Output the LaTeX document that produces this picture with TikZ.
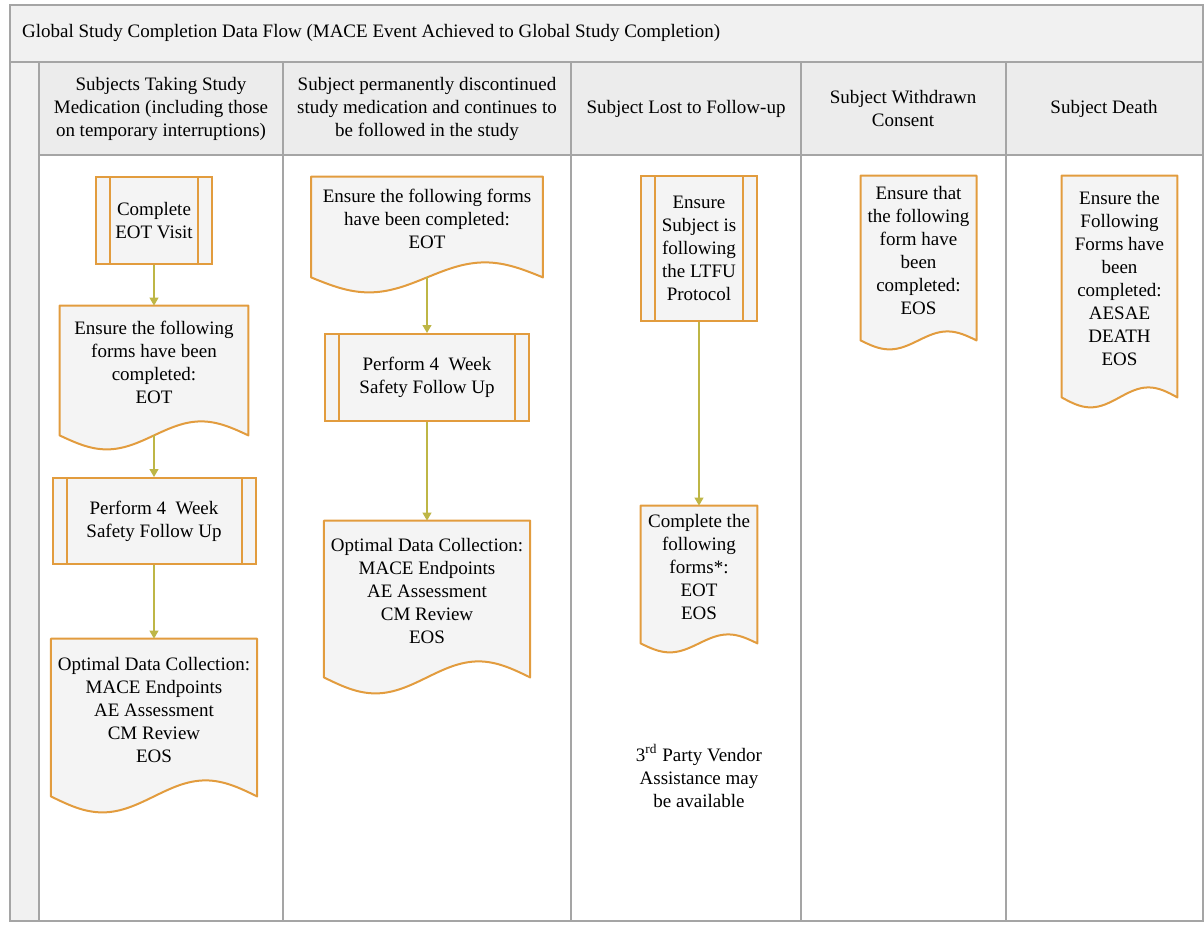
\documentclass[tikz,border=0pt]{standalone}
\usepackage{fontspec}
\setmainfont{Liberation Serif}
\usetikzlibrary{arrows.meta,calc}

\definecolor{boxline}{RGB}{226,156,62}
\definecolor{boxfill}{RGB}{244,244,244}
\definecolor{flowline}{RGB}{190,182,70}
\definecolor{gridline}{RGB}{165,165,165}
\definecolor{headfill}{RGB}{236,236,236}
\definecolor{titlefill}{RGB}{241,241,241}

\pgfdeclarelayer{background}
\pgfsetlayers{background,main}

% document shape with a wavy bottom, drawn round a named node
\newcommand{\docwave}[2]{%
  \filldraw[draw=boxline,fill=boxfill,line width=1pt,line join=round]
    (#1.south west) -- (#1.north west) -- (#1.north east) -- (#1.south east)
    sin ($(#1.south west)!0.75!(#1.south east)+(0,-#2)$)
    cos ($(#1.south west)!0.5!(#1.south east)$)
    sin ($(#1.south west)!0.25!(#1.south east)+(0,#2)$)
    cos (#1.south west) -- cycle;}

\tikzset{
  every node/.style={font=\fontsize{9.5pt}{11.5pt}\selectfont},
  procbox/.style={draw=boxline,fill=boxfill,line width=1pt,align=center,
    path picture={\draw[boxline,line width=1pt]
      ([xshift=7pt]path picture bounding box.north west) -- ([xshift=7pt]path picture bounding box.south west)
      ([xshift=-7pt]path picture bounding box.north east) -- ([xshift=-7pt]path picture bounding box.south east);}},
  docbox/.style={align=center,text depth=8pt},
  hdr/.style={align=center},
  flow/.style={flowline,line width=0.6pt,-{Triangle[width=4.5pt,length=4pt]}}
}

\begin{document}
\begin{tikzpicture}[x=0.5pt,y=-0.5pt]
\useasboundingbox (0,0) rectangle (1204,925);
	% title band
	\draw [gridline,line width=0.75pt,fill=titlefill] (10,5) rectangle (1203,62);
	\node [anchor=west] (title) at (15,33) {Global Study Completion Data Flow (MACE Event Achieved to Global Study Completion)};
	% left band
	\draw [gridline,line width=0.75pt,fill=titlefill] (10,62) rectangle (39,921);
	% header row
	\draw [gridline,line width=0.75pt,fill=headfill] (39,62) rectangle (1203,155);
	% lanes
	\draw [gridline,line width=0.75pt] (39,155) rectangle (1203,921);
	\foreach \x in {283,571,801,1006}
	  \draw [gridline,line width=0.75pt] (\x,62) -- (\x,921);

	% lane headers
	\node [hdr] (hdrtaking) at (161,109) {Subjects Taking Study\\Medication (including those\\on temporary interruptions)};
	\node [hdr] (hdrstopped) at (427,109) {Subject permanently discontinued\\study medication and continues to\\be followed in the study};
	\node [hdr] (hdrlost) at (686,109) {Subject Lost to Follow-up};
	\node [hdr] (hdrconsent) at (903,109) {Subject Withdrawn\\Consent};
	\node [hdr] (hdrdeath) at (1104,109) {Subject Death};

	% lane 1
	\node [procbox,minimum width=58pt,minimum height=43.5pt] (eotvisit) at (154,220.5) {Complete\\EOT Visit};
	\node [docbox,minimum width=94pt,minimum height=64.5pt] (formsone) at (154,370.5) {Ensure the following\\forms have been\\completed:\\EOT};
	\node [procbox,minimum width=101.5pt,minimum height=43pt] (safetyone) at (154,521) {Perform 4 \ Week\\Safety Follow Up};
	\node [docbox,minimum width=101.5pt,minimum height=78.5pt] (optdataone) at (154,717.5) {Optimal Data Collection:\\MACE Endpoints\\AE Assessment\\CM Review\\EOS};
	\draw [flow] (eotvisit) -- (formsone);
	\draw [flow] (formsone) -- (safetyone);
	\draw [flow] (safetyone) -- (optdataone);

	% lane 2
	\node [docbox,minimum width=115.5pt,minimum height=50pt] (formstwo) at (427,227) {Ensure the following forms\\have been completed:\\EOT};
	\node [procbox,minimum width=102pt,minimum height=43.5pt] (safetytwo) at (427,377.5) {Perform 4 \ Week\\Safety Follow Up};
	\node [docbox,minimum width=102.5pt,minimum height=78pt] (optdatatwo) at (427,599) {Optimal Data Collection:\\MACE Endpoints\\AE Assessment\\CM Review\\EOS};
	\draw [flow] (formstwo) -- (safetytwo);
	\draw [flow] (safetytwo) -- (optdatatwo);

	% lane 3
	\node [procbox,minimum width=58pt,minimum height=72.5pt] (ltfu) at (699,248.5) {Ensure\\Subject is\\following\\the LTFU\\Protocol};
	\node [docbox,minimum width=58pt,minimum height=68.5pt] (formslost) at (699,574.5) {Complete the\\following\\forms*:\\EOT\\EOS};
	\node [align=center] (vendor) at (699,776) {3\textsuperscript{rd} Party Vendor\\Assistance may\\be available};
	\draw [flow] (ltfu) -- (formslost);

	% lane 4
	\node [docbox,minimum width=57.5pt,minimum height=82pt] (formsconsent) at (918.5,258) {Ensure that\\the following\\form have\\been\\completed:\\EOS};

	% lane 5
	\node [docbox,minimum width=57.5pt,minimum height=110.5pt] (formsdeath) at (1119.5,286.5) {Ensure the\\Following\\Forms have\\been\\completed:\\AESAE\\DEATH\\EOS};

	% wavy document outlines
	\begin{pgfonlayer}{background}
	\docwave{formsone}{14}
	\docwave{optdataone}{16}
	\docwave{formstwo}{15}
	\docwave{optdatatwo}{16}
	\docwave{formslost}{9}
	\docwave{formsconsent}{9}
	\docwave{formsdeath}{10}
	\end{pgfonlayer}
\end{tikzpicture}
\end{document}
